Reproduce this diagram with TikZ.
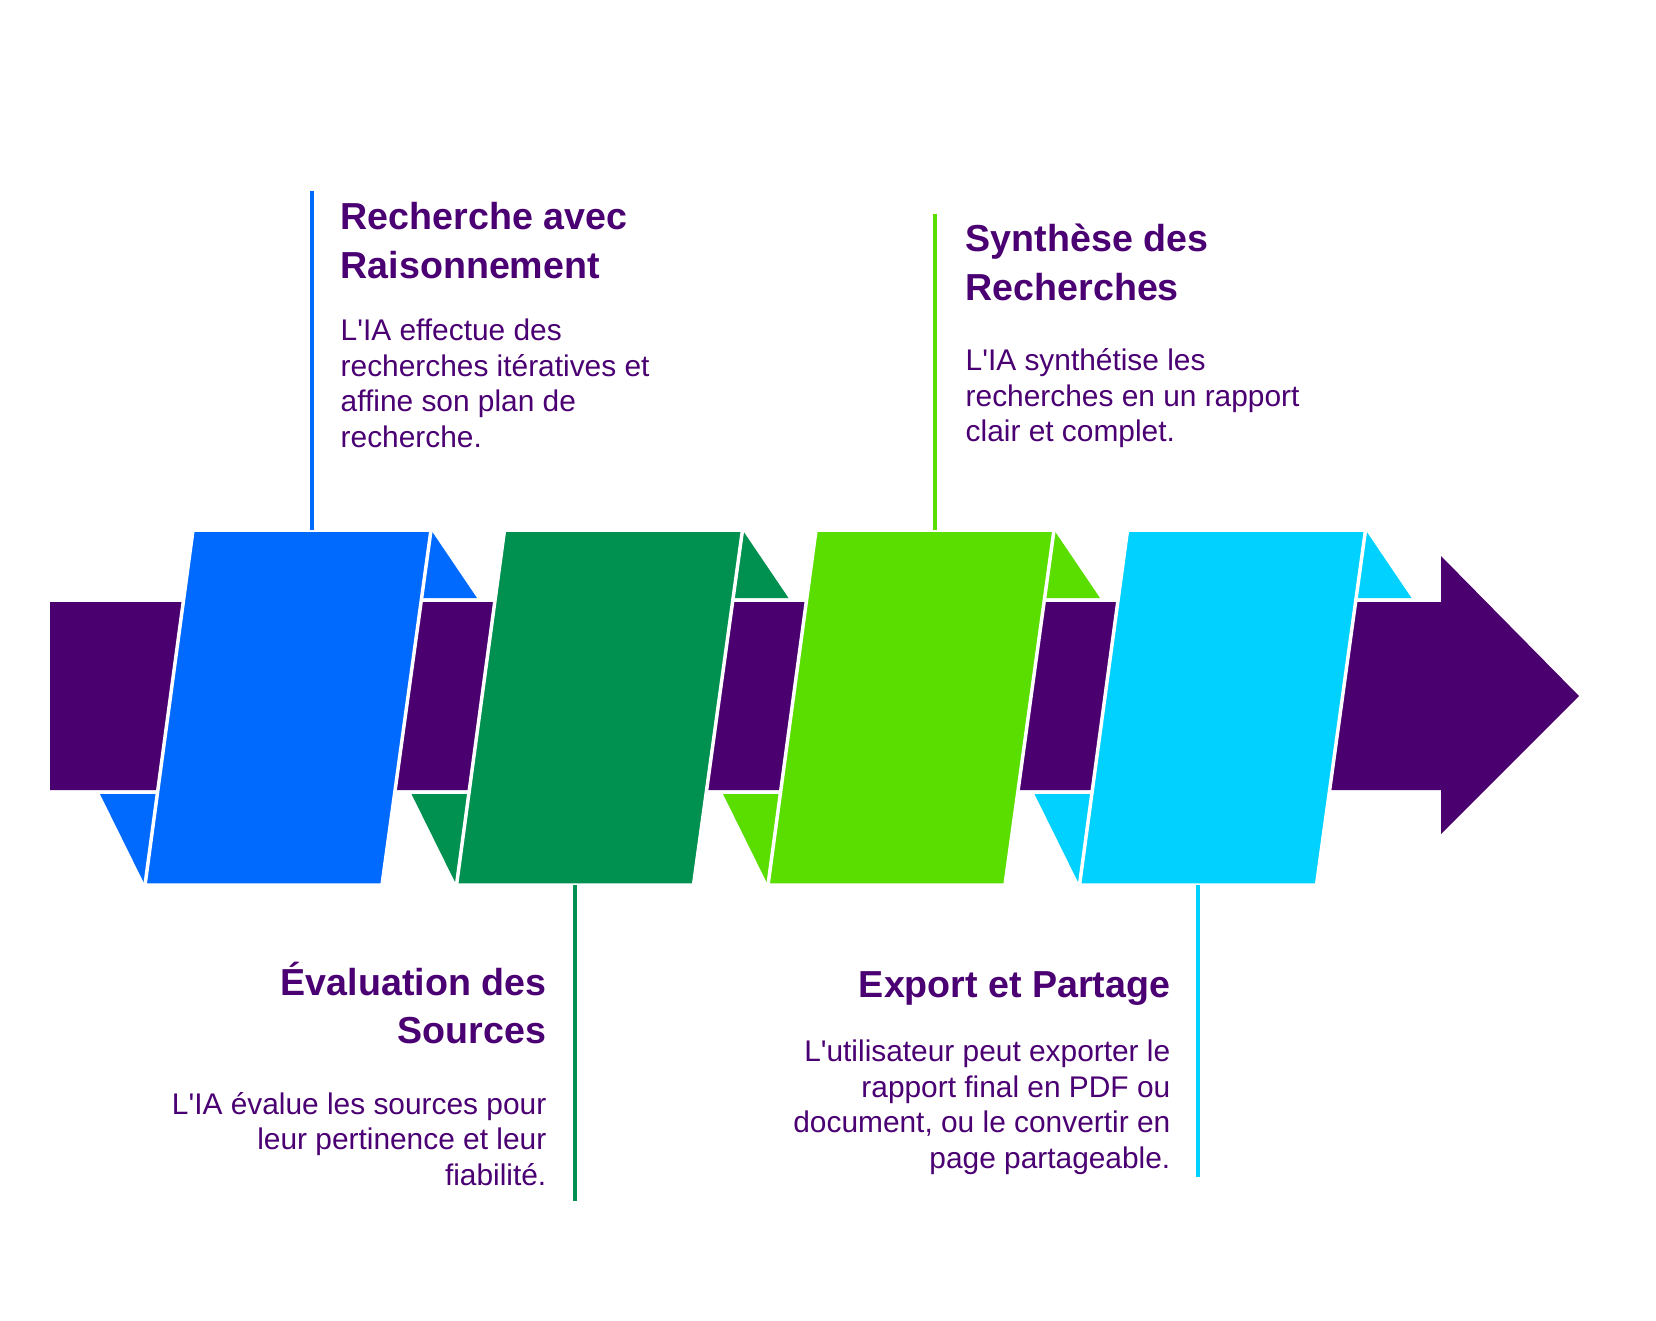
\documentclass[tikz,border=0pt]{standalone}
\usepackage{fontspec}
\setmainfont{Liberation Sans}
\usepackage{tikz}
\definecolor{band}{HTML}{4B0070}
\definecolor{ink}{HTML}{4A0072}
\definecolor{blueA}{HTML}{006AFF}
\definecolor{greenA}{HTML}{00904F}
\definecolor{limeA}{HTML}{5ADE00}
\definecolor{cyanA}{HTML}{00D1FF}

\begin{document}
\begin{tikzpicture}[x=0.1mm,y=-0.1mm,
  every node/.style={inner sep=0pt,text=ink},
  head/.style={font=\bfseries\fontsize{10.7}{13.8}\selectfont},
  txt/.style={font=\fontsize{8.5}{10.1}\selectfont},
  panel/.style={draw=white,line width=0.35mm},
  stem/.style={line width=0.35mm}]
\useasboundingbox (0,0) rectangle (1656,1320);
%
\fill[band] (50,602) -- (1441,602) -- (1441,556) -- (1579,696) -- (1441,834) -- (1441,790) -- (50,790) -- cycle;
%
\fill[blueA] (431,530) -- (477,598) -- (422,598) -- cycle;
\fill[blueA] (100,794) -- (157,794) -- (145,885) -- cycle;
\fill[greenA] (742.5,530) -- (788.5,598) -- (733.5,598) -- cycle;
\fill[greenA] (411.5,794) -- (468.5,794) -- (456.5,885) -- cycle;
\fill[limeA] (1054,530) -- (1100,598) -- (1045,598) -- cycle;
\fill[limeA] (723,794) -- (780,794) -- (768,885) -- cycle;
\fill[cyanA] (1365.5,530) -- (1411.5,598) -- (1356.5,598) -- cycle;
\fill[cyanA] (1034.5,794) -- (1091.5,794) -- (1079.5,885) -- cycle;
%
\filldraw[panel,fill=blueA] (193,530) -- (431,530) -- (382,885) -- (145,885) -- cycle;
\filldraw[panel,fill=greenA] (504.5,530) -- (742.5,530) -- (693.5,885) -- (456.5,885) -- cycle;
\filldraw[panel,fill=limeA] (816,530) -- (1054,530) -- (1005,885) -- (768,885) -- cycle;
\filldraw[panel,fill=cyanA] (1127.5,530) -- (1365.5,530) -- (1316.5,885) -- (1079.5,885) -- cycle;
%
\coordinate (s1) at (312,530);
\coordinate (e1) at (312,191);
\coordinate (s2) at (575,885);
\coordinate (e2) at (575,1201);
\coordinate (s3) at (935,530);
\coordinate (e3) at (935,214);
\coordinate (s4) at (1198,885);
\coordinate (e4) at (1198,1177);
\draw[stem,blueA] (s1) -- (e1);
\draw[stem,greenA] (s2) -- (e2);
\draw[stem,limeA] (s3) -- (e3);
\draw[stem,cyanA] (s4) -- (e4);
%
\node (h1) [head,anchor=base west,align=left] at (340,278) {Recherche avec\\Raisonnement};
\node (d1) [txt,anchor=base west,align=left] at (340,447) {L\textquotesingle IA effectue des\\recherches itératives et\\affine son plan de\\recherche.};
\node (h2) [head,anchor=base west,align=left] at (965,300) {Synthèse des\\Recherches};
\node (d2) [txt,anchor=base west,align=left] at (965,441.5) {L\textquotesingle IA synthétise les\\recherches en un rapport\\clair et complet.};
\node (h3) [head,anchor=base east,align=right] at (547,1043.5) {Évaluation des\\Sources};
\node (d3) [txt,anchor=base east,align=right] at (547,1185) {L\textquotesingle IA évalue les sources pour\\leur pertinence et leur\\fiabilité.};
\node (h4) [head,anchor=base east,align=right] at (1171,997) {Export et Partage};
\node (d4) [txt,anchor=base east,align=right] at (1171,1168) {L\textquotesingle utilisateur peut exporter le\\rapport final en PDF ou\\document, ou le convertir en\\page partageable.};
%
\end{tikzpicture}
\end{document}
